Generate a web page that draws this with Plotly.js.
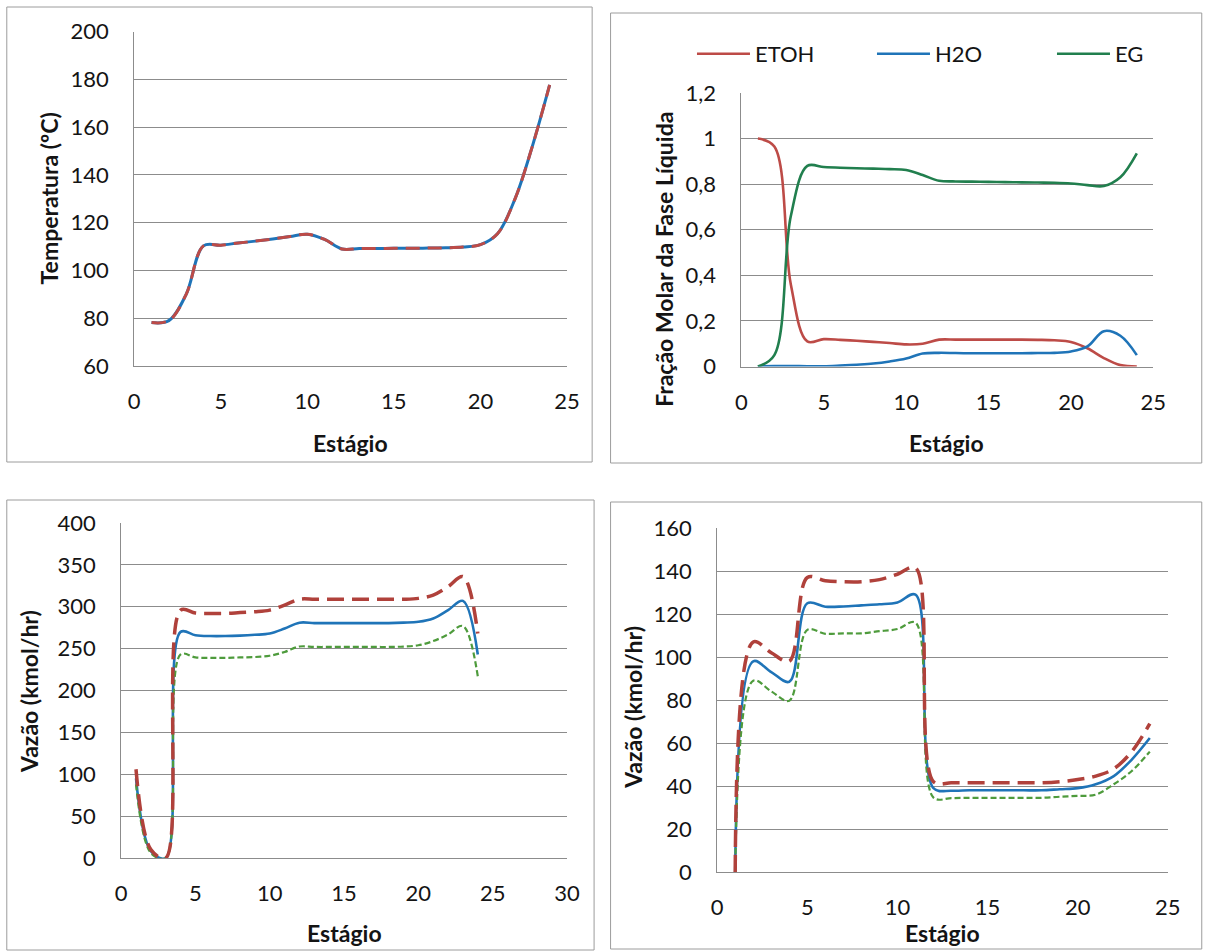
<!DOCTYPE html>
<html>
<head>
<meta charset="utf-8">
<script src="https://cdn.plot.ly/plotly-3.0.1.min.js"></script>
<style>html,body{margin:0;padding:0;background:#fff;}#chart{width:1232px;height:952px;}</style>
</head>
<body>
<div id="chart"></div>
<script>
// ---------- data ----------
var stages = [1,2,3,4,5,6,7,8,9,10,11,12,13,14,15,16,17,18,19,20,21,22,23,24];

// Panel 1: temperature (°C)
var temperatura = [78.2,79,90,110.3,110.6,111.5,112.3,113.2,114.2,115.2,113,109,109.2,109.2,109.3,109.3,109.4,109.5,109.8,110.8,115.5,130,152,177.7];

// Panel 2: liquid-phase mole fractions
var etoh = [1.0,0.965,0.36,0.11,0.12,0.117,0.113,0.108,0.103,0.097,0.1,0.118,0.118,0.118,0.118,0.118,0.118,0.117,0.115,0.108,0.08,0.037,0.006,0];
var h2o  = [0,0.002,0.002,0.001,0.001,0.004,0.008,0.013,0.022,0.035,0.057,0.06,0.059,0.058,0.058,0.058,0.058,0.059,0.06,0.066,0.088,0.155,0.135,0.05];
var eg   = [0,0.05,0.66,0.88,0.875,0.872,0.87,0.868,0.866,0.862,0.84,0.815,0.812,0.811,0.81,0.809,0.808,0.807,0.806,0.803,0.796,0.792,0.83,0.935];

// Panel 3: flow (kmol/hr)
var vazaoA_red   = [106,10,0,296,292.5,292,292,293,294,296,302,309,309,309,309,309,309,309,309,310,314,324,336,268];
var vazaoA_blue  = [95,8,0,270,266,265,265,265.5,266.5,268,274,281,280.5,280.5,280.5,280.5,280.5,280.5,281,282,286,296,307,243];
var vazaoA_green = [88,6,0,243,239.5,239,239,239.5,240,241.5,246,252.5,252,252,252,252,252,252,252.5,254,259,267,277,217];

// Panel 4: flow (kmol/hr)
var vazaoB_red   = [0,107,102,98,137,135.5,135,135,136,138.5,141.5,42,41.5,41.5,41.5,41.5,41.5,41.5,42,43,44.6,48,56,69];
var vazaoB_blue  = [0,98,93,88.5,125,123.4,123.5,124,124.5,125.4,129,39,37.8,38,38,38,38,38,38.5,39,40.8,44.6,52.3,62.3];
var vazaoB_green = [0,89,84,79.7,112.6,110.8,111,111,112,113,116,34.6,34.4,34.5,34.5,34.5,34.5,34.5,35,35.4,36,40.8,47,56];

var legendNames = ['ETOH','H2O','EG'];
var xTitle = 'Estágio';
var yTitles = ['Temperatura (ºC)','Fração Molar da Fase Líquida','Vazão (kmol/hr)','Vazão (kmol/hr)'];

// ---------- styles ----------
var W = 1232, H = 952;
function px(x){ return x / W; }
function py(y){ return 1 - y / H; }
var FONT = 'Lato, "Open Sans", "DejaVu Sans", sans-serif';
var TXT = '#141414';
var RED = '#BD4B47', BLUE = '#1F74B8', GREEN2 = '#217F4E', GREEN = '#4E9B3C';
var GRID = '#8c8c8c';

function line(x, y, xa, ya, color, width, dash, name, showlegend) {
  return {x: x, y: y, xaxis: xa, yaxis: ya, type: 'scatter', mode: 'lines',
    name: name || '', showlegend: !!showlegend, hoverinfo: 'skip',
    line: {color: color, width: width, dash: dash || 'solid', shape: 'spline', smoothing: 1}};
}

var traces = [
  line(stages, temperatura, 'x', 'y', BLUE, 3, 'solid'),
  line(stages, temperatura, 'x', 'y', RED, 3, '14px,8px'),

  line(stages, etoh, 'x2', 'y2', RED, 2.6, 'solid', legendNames[0], true),
  line(stages, h2o,  'x2', 'y2', BLUE, 2.6, 'solid', legendNames[1], true),
  line(stages, eg,   'x2', 'y2', GREEN2, 2.6, 'solid', legendNames[2], true),

  line(stages, vazaoA_blue,  'x3', 'y3', BLUE, 2.6, 'solid'),
  line(stages, vazaoA_green, 'x3', 'y3', GREEN, 2.2, '6px,3px'),
  line(stages, vazaoA_red,   'x3', 'y3', '#B0413B', 3.5, '17px,8px'),

  line(stages, vazaoB_blue,  'x4', 'y4', BLUE, 2.6, 'solid'),
  line(stages, vazaoB_green, 'x4', 'y4', GREEN, 2.2, '6px,3px'),
  line(stages, vazaoB_red,   'x4', 'y4', '#B0413B', 3.5, '17px,8px')
];

function xax(l, r, range, anchor) {
  return {domain: [px(l), px(r)], range: range, dtick: 5, tick0: 0, anchor: anchor,
    showgrid: false, zeroline: false, showline: true, linecolor: GRID, linewidth: 1,
    ticks: '', ticklabelstandoff: 16, fixedrange: true,
    tickfont: {family: FONT, size: 22, color: TXT}};
}
function yax(top, bottom, range, dtick, anchor) {
  return {domain: [py(bottom), py(top)], range: range, dtick: dtick, tick0: 0, anchor: anchor,
    showgrid: true, gridcolor: GRID, gridwidth: 1, zeroline: false, showline: true,
    linecolor: GRID, linewidth: 1, ticks: '', ticklabelstandoff: 20, fixedrange: true,
    tickfont: {family: FONT, size: 22, color: TXT}};
}

function border(x0, y0, x1, y1) {
  return {type: 'rect', xref: 'paper', yref: 'paper', x0: px(x0), x1: px(x1), y0: py(y1), y1: py(y0),
    line: {color: '#9c9c9c', width: 1}, fillcolor: 'rgba(0,0,0,0)', layer: 'below'};
}
function titleAnn(text, x, y, angle) {
  return {text: '<b>' + text + '</b>', xref: 'paper', yref: 'paper', x: px(x), y: py(y),
    xanchor: 'center', yanchor: 'middle', showarrow: false, textangle: angle || 0,
    font: {family: FONT, size: 23, color: TXT}};
}

var layout = {
  width: W, height: H,
  margin: {l: 0, r: 0, t: 0, b: 0, pad: 0},
  paper_bgcolor: '#ffffff', plot_bgcolor: 'rgba(0,0,0,0)',
  separators: ',.',
  font: {family: FONT, size: 22, color: TXT},
  showlegend: true,
  legend: {orientation: 'h', x: px(714), y: py(54), xanchor: 'left', yanchor: 'middle',
    itemwidth: 53, entrywidth: 112, entrywidthmode: 'pixels', bgcolor: 'rgba(0,0,0,0)',
    font: {family: FONT, size: 22, color: TXT}},
  xaxis:  xax(138.5, 585, [0, 25], 'y'),
  yaxis:  yax(31.7, 366, [60, 200], 20, 'x'),
  xaxis2: xax(765, 1190, [0, 25], 'y2'),
  yaxis2: yax(93, 366.5, [0, 1.2], 0.2, 'x2'),
  xaxis3: xax(125, 585, [0, 30], 'y3'),
  yaxis3: yax(523, 858, [0, 400], 50, 'x3'),
  xaxis4: xax(740, 1205, [0, 25], 'y4'),
  yaxis4: yax(528, 872, [0, 160], 20, 'x4'),
  shapes: [
    border(7, 7, 611, 462),
    border(630, 13, 1240, 463),
    border(7, 500, 613, 950),
    border(630, 502, 1240, 949)
  ],
  annotations: [
    titleAnn(xTitle, 362, 443),
    titleAnn(xTitle, 977, 443),
    titleAnn(xTitle, 355, 933),
    titleAnn(xTitle, 972, 933),
    titleAnn(yTitles[0], 51, 198, -90),
    titleAnn(yTitles[1], 685, 259, -90),
    titleAnn(yTitles[2], 30, 692, -90),
    titleAnn(yTitles[3], 653, 707, -90)
  ]
};

Plotly.newPlot('chart', traces, layout, {staticPlot: true, displayModeBar: false});
</script>
</body>
</html>
